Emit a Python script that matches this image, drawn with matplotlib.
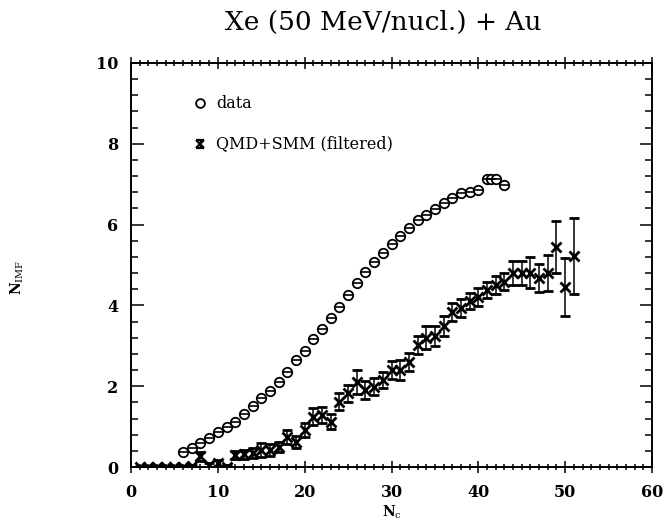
import numpy as np
import matplotlib
matplotlib.use('Agg')
import matplotlib.pyplot as plt
from matplotlib.ticker import MultipleLocator

plt.rcParams['font.family'] = 'DejaVu Serif'
plt.rcParams['mathtext.fontset'] = 'dejavuserif'

# data (open circles)
nc_data = [6, 7, 8, 9, 10, 11, 12, 13, 14, 15, 16, 17, 18, 19, 20, 21, 22, 23, 24,
           25, 26, 27, 28, 29, 30, 31, 32, 33, 34, 35, 36, 37, 38, 39, 40,
           41, 41.5, 42, 43]
nimf_data = [0.38, 0.46, 0.59, 0.72, 0.86, 1.0, 1.12, 1.3, 1.5, 1.72, 1.88, 2.11, 2.36,
             2.65, 2.88, 3.16, 3.42, 3.7, 3.95, 4.26, 4.55, 4.83, 5.08, 5.3, 5.51,
             5.72, 5.92, 6.11, 6.24, 6.38, 6.54, 6.65, 6.77, 6.8, 6.86,
             7.12, 7.12, 7.12, 6.98]
err_data = [0.02] * 38 + [0.1]

# QMD+SMM (filtered), crosses
nc_qmd = list(range(1, 52))
nimf_qmd = [0.0, 0.0, 0.0, 0.0, 0.0, 0.0, 0.02, 0.26, 0.05, 0.1, 0.0, 0.3, 0.31,
            0.34, 0.42, 0.43, 0.5, 0.75, 0.61, 0.92, 1.25, 1.29, 1.12, 1.62, 1.82,
            2.11, 1.9, 1.99, 2.15, 2.4, 2.4, 2.6, 3.02, 3.2, 3.25, 3.5, 3.84, 3.94,
            4.1, 4.21, 4.38, 4.5, 4.59, 4.81, 4.8, 4.81, 4.67, 4.8, 5.45, 4.45, 5.22]
err_qmd = [0.03, 0.03, 0.03, 0.03, 0.03, 0.03, 0.04, 0.12, 0.05, 0.07, 0.05, 0.1, 0.1,
           0.12, 0.18, 0.15, 0.12, 0.17, 0.15, 0.18, 0.22, 0.2, 0.18, 0.2, 0.22,
           0.3, 0.22, 0.22, 0.2, 0.22, 0.25, 0.22, 0.22, 0.28, 0.25, 0.25, 0.22,
           0.22, 0.2, 0.22, 0.2, 0.22, 0.2, 0.3, 0.3, 0.38, 0.35, 0.45, 0.65, 0.72, 0.95]

fig = plt.figure(figsize=(6.65, 5.26), dpi=100)
ax = fig.add_axes([131/665, 1-467/526, 521/665, 404/526])

ax.errorbar(nc_qmd, nimf_qmd, yerr=err_qmd, fmt='x', color='black', ms=7.5, mew=2.0,
            ecolor='black', elinewidth=1.1, capsize=3.5, capthick=1.1)
ax.errorbar(nc_data, nimf_data, yerr=err_data, fmt='o', color='black', ms=6.8,
            mfc='white', mew=1.3, elinewidth=1.0, capsize=0)
ax.plot(nc_data, nimf_data, '_', color='black', ms=6.5, mew=1.2, zorder=4)

# legend drawn in data coordinates
ax.plot([8], [9.0], 'o', mfc='white', color='black', ms=6.3, mew=1.3)
ax.errorbar([8], [8.0], yerr=[0.1], fmt='x', color='black', ms=6, mew=1.6,
            elinewidth=1.0, capsize=3, capthick=1.0)
ax.text(9.8, 9.0, 'data', va='center', fontsize=11.5)
ax.text(9.8, 8.0, 'QMD+SMM (filtered)', va='center', fontsize=11.5)

ax.set_xlim(0, 60)
ax.set_ylim(0, 10)
ax.xaxis.set_major_locator(MultipleLocator(10))
ax.xaxis.set_minor_locator(MultipleLocator(1))
ax.yaxis.set_major_locator(MultipleLocator(2))
ax.yaxis.set_minor_locator(MultipleLocator(0.4))
ax.tick_params(axis='both', which='both', direction='in', top=True, right=True,
               labelsize=11.5, width=1.1)
ax.tick_params(axis='x', which='both', direction='inout', pad=8)
ax.tick_params(axis='y', pad=9)
ax.tick_params(which='major', length=9)
ax.tick_params(which='minor', length=5)
for lab in ax.get_xticklabels() + ax.get_yticklabels():
    lab.set_fontweight('bold')
for s in ax.spines.values():
    s.set_linewidth(1.4)

fig.text(383/665, 1-22/526, 'Xe (50 MeV/nucl.) + Au', ha='center', va='center',
         fontsize=19)
fig.text(392/665, 1-512/526, r'N$_{\rm c}$', ha='center', va='center', fontsize=10,
         fontweight='bold')
fig.text(17/665, 1-277/526, r'N$_{\rm IMF}$', ha='center', va='center',
         rotation=90, fontsize=10, fontweight='bold')

fig.savefig('out.png', dpi=100)
